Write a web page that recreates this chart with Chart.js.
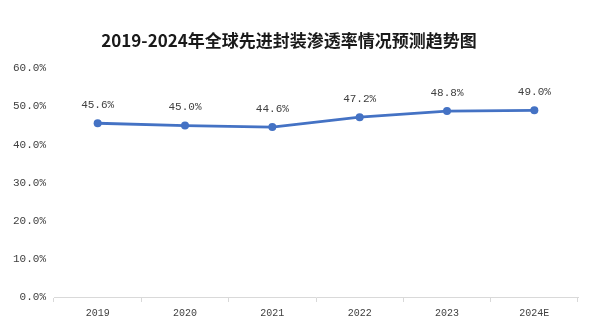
<!DOCTYPE html>
<html>
<head>
<meta charset="utf-8">
<script src="https://cdn.jsdelivr.net/npm/chart.js@4/dist/chart.umd.min.js"></script>
<style>
  html, body { margin: 0; padding: 0; background: #ffffff; }
  #wrap { width: 609px; height: 325px; position: relative; }
</style>
</head>
<body>
<div id="wrap"><canvas id="c"></canvas></div>
<script>
// 2019-2024 global advanced packaging penetration rate (%)
const years = ['2019', '2020', '2021', '2022', '2023', '2024E'];
const penetration = [45.6, 45.0, 44.6, 47.2, 48.8, 49.0];
const yTicks = [0, 10, 20, 30, 40, 50, 60];
const titleText = '2019-2024年全球先进封装渗透率情况预测趋势图';

const lineColor = '#4472C4';
const textColor = '#404040';
const numFont = "'Liberation Mono', 'DejaVu Sans Mono', monospace";

// draws the value above each point
const valueLabels = {
  id: 'valueLabels',
  afterDatasetsDraw(chart) {
    const ctx = chart.ctx;
    const meta = chart.getDatasetMeta(0);
    const data = chart.data.datasets[0].data;
    ctx.save();
    ctx.font = '11px ' + numFont;
    ctx.fillStyle = textColor;
    ctx.textAlign = 'center';
    ctx.textBaseline = 'middle';
    meta.data.forEach((pt, i) => {
      ctx.fillText(data[i].toFixed(1) + '%', pt.x, pt.y - 18);
    });
    ctx.restore();
  }
};

new Chart(document.getElementById('c'), {
  type: 'line',
  data: {
    labels: years,
    datasets: [{
      data: penetration,
      borderColor: lineColor,
      backgroundColor: lineColor,
      borderWidth: 2.8,
      pointRadius: 4,
      pointHoverRadius: 4,
      pointBorderWidth: 0,
      pointBackgroundColor: lineColor,
      pointBorderColor: lineColor,
      tension: 0
    }]
  },
  options: {
    responsive: true,
    maintainAspectRatio: false,
    animation: false,
    devicePixelRatio: 1,
    layout: { padding: { left: 0, right: 31, top: 0, bottom: 1 } },
    plugins: {
      legend: { display: false },
      tooltip: { enabled: false },
      title: {
        display: true,
        text: titleText,
        color: '#1a1a1a',
        font: { family: "'Noto Sans CJK SC', sans-serif", size: 17, weight: 'bold' },
        padding: { top: 30, bottom: 18 }
      }
    },
    scales: {
      x: {
        offset: true,
        border: { display: true, color: '#d9d9d9', width: 1 },
        grid: { display: true, offset: true, drawOnChartArea: false, drawTicks: true, tickLength: 5, color: '#d9d9d9' },
        ticks: { color: textColor, font: { family: numFont, size: 10 }, padding: 5, maxRotation: 0 }
      },
      y: {
        min: 0,
        max: 60,
        afterBuildTicks(scale) { scale.ticks = yTicks.map(v => ({ value: v })); },
        afterFit(scale) { scale.width = 54; },
        border: { display: false },
        grid: { display: false, drawTicks: false },
        ticks: {
          color: textColor,
          font: { family: numFont, size: 11 },
          padding: 8,
          callback: v => Number(v).toFixed(1) + '%'
        }
      }
    }
  },
  plugins: [valueLabels]
});
</script>
</body>
</html>
